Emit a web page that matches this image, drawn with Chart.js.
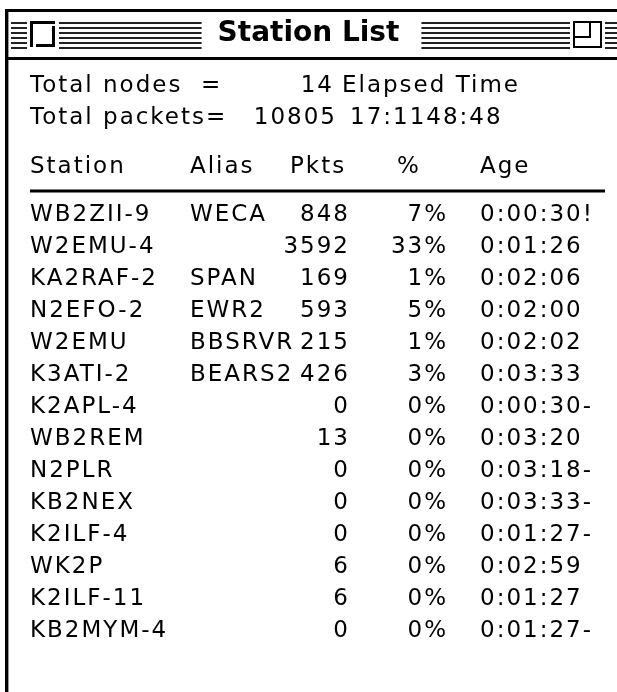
<!DOCTYPE html>
<html>
<head>
<meta charset="utf-8">
<script src="https://cdn.jsdelivr.net/npm/chart.js@4.4.1/dist/chart.umd.min.js"></script>
<style>
html, body { margin: 0; padding: 0; background: #fff; }
#wrap { position: relative; width: 617px; height: 692px; }
</style>
</head>
<body>
<div id="wrap"><canvas id="StationChart"></canvas></div>
<script>
// table contents
const Columns = ['Station', 'Alias', 'Pkts', '%', 'Age'];
const Stations = ['WB2ZII-9', 'W2EMU-4', 'KA2RAF-2', 'N2EFO-2', 'W2EMU', 'K3ATI-2', 'K2APL-4',
    'WB2REM', 'N2PLR', 'KB2NEX', 'K2ILF-4', 'WK2P', 'K2ILF-11', 'KB2MYM-4'];
const Aliases = ['WECA', '', 'SPAN', 'EWR2', 'BBSRVR', 'BEARS2', '', '', '', '', '', '', '', ''];
const Pkts = [848, 3592, 169, 593, 215, 426, 0, 13, 0, 0, 0, 6, 6, 0];
const Percent = [7, 33, 1, 5, 1, 3, 0, 0, 0, 0, 0, 0, 0, 0];
const Ages = ['0:00:30!', '0:01:26', '0:02:06', '0:02:00', '0:02:02', '0:03:33', '0:00:30-',
    '0:03:20', '0:03:18-', '0:03:33-', '0:01:27-', '0:02:59', '0:01:27', '0:01:27-'];
const TotalNodes = 14;
const TotalPackets = 10805;
const ElapsedTime = '17:1148:48';

// layout (x in pixel units, y in row units)
const ColX = { station: 30, alias: 190, pkts: 348, pct: 446, age: 480 };
const HeadX = [30, 190, 290, 397, 480];
const RowNodes = -4.03, RowPackets = -3.03, RowHead = -1.5, RowRule = -0.69;
const BodyFont = '23px "DejaVu Sans"';
const Spacing = 2;

const Canvas = document.getElementById("StationChart");

function cells(x, texts) {
    return texts.map((t, i) => ({ x: x, y: i }));
}

function textSet(data, texts, align) {
    return {
        type: 'scatter',
        data: data,
        texts: texts,
        align: align,
        pointRadius: 0,
        pointHoverRadius: 0,
        borderWidth: 0,
        backgroundColor: '#000'
    };
}

const windowFrame = {
    id: 'windowFrame',
    beforeDraw(chart) {
        const ctx = chart.ctx;
        const w = chart.width, h = chart.height;
        ctx.save();
        ctx.fillStyle = '#fff';
        ctx.fillRect(0, 0, w, h);
        ctx.fillStyle = '#000';
        // outer frame
        ctx.fillRect(5, 9, w - 5, 3);
        ctx.fillRect(5, 9, 3, h - 9);
        ctx.fillStyle = '#999';
        ctx.fillRect(8, 12, 1, h - 12);
        ctx.fillStyle = '#000';
        ctx.fillRect(5, 57, w - 5, 3);
        // title stripes
        ctx.font = 'bold 28px "DejaVu Sans"';
        const tw = ctx.measureText('Station List').width;
        const cx = w / 2;
        const gaps = [[27, 59], [cx - tw / 2 - 16, cx + tw / 2 + 22], [570, 605]];
        ctx.fillStyle = '#222';
        for (let k = 0; k < 6; k++) {
            const y = 22 + k * 5;
            let x0 = 11;
            gaps.forEach(g => {
                ctx.fillRect(x0, y, g[0] - x0, 2);
                x0 = g[1];
            });
            ctx.fillRect(x0, y, w - x0, 2);
        }
        // close box
        ctx.fillStyle = '#000';
        ctx.fillRect(30, 21, 3, 26);
        ctx.fillRect(30, 21, 25, 3);
        ctx.fillRect(36, 44, 19, 3);
        ctx.fillRect(52, 26, 3, 21);
        // zoom box
        ctx.lineWidth = 2;
        ctx.strokeStyle = '#000';
        ctx.strokeRect(574, 22, 27, 25);
        ctx.strokeRect(574, 22, 16, 15);
        ctx.restore();
    }
};

const cellText = {
    id: 'cellText',
    afterDatasetsDraw(chart) {
        const ctx = chart.ctx;
        ctx.save();
        ctx.font = BodyFont;
        ctx.fillStyle = '#000';
        ctx.letterSpacing = Spacing + 'px';
        ctx.textBaseline = 'alphabetic';
        chart.data.datasets.forEach((ds, di) => {
            if (!ds.texts) return;
            const meta = chart.getDatasetMeta(di);
            ctx.textAlign = ds.align;
            meta.data.forEach((pt, i) => {
                const t = ds.texts[i];
                if (t === '' || t === undefined) return;
                const x = ds.align === 'right' ? pt.x + Spacing : pt.x;
                ctx.fillText(String(t), x, pt.y + 8.4);
            });
        });
        ctx.restore();
    }
};

const StationChartFormat = new Chart(Canvas, {
    data: {
        datasets: [
            textSet([{ x: 30, y: RowNodes }, { x: 30, y: RowPackets }], ['Total nodes  =', 'Total packets='], 'left'),
            textSet([{ x: 332, y: RowNodes }, { x: 335, y: RowPackets }], [TotalNodes, TotalPackets], 'right'),
            textSet([{ x: 342, y: RowNodes }, { x: 350, y: RowPackets }], ['Elapsed Time', ElapsedTime], 'left'),
            textSet(HeadX.map(x => ({ x: x, y: RowHead })), Columns, 'left'),
            {
                type: 'line',
                data: [{ x: 30, y: RowRule }, { x: 605, y: RowRule }],
                borderColor: '#000',
                borderWidth: 3,
                pointRadius: 0,
                pointHoverRadius: 0
            },
            textSet(cells(ColX.station, Stations), Stations, 'left'),
            textSet(cells(ColX.alias, Aliases), Aliases, 'left'),
            textSet(cells(ColX.pkts, Pkts), Pkts, 'right'),
            textSet(cells(ColX.pct, Percent), Percent.map(p => p + '%'), 'right'),
            textSet(cells(ColX.age, Ages), Ages, 'left')
        ]
    },
    options: {
        responsive: true,
        maintainAspectRatio: false,
        animation: false,
        events: [],
        layout: { padding: 0 },
        scales: {
            x: { type: 'linear', min: 0, max: 617, display: false },
            y: { type: 'linear', min: -4.84375, max: 14.96875, reverse: true, display: false }
        },
        plugins: {
            legend: { display: false },
            tooltip: { enabled: false },
            title: {
                display: true,
                text: 'Station List',
                color: '#000',
                font: { family: '"DejaVu Sans"', size: 28, weight: 'bold', lineHeight: 1.2 },
                padding: { top: 17, bottom: 7.4 }
            }
        }
    },
    plugins: [windowFrame, cellText]
});
</script>
</body>
</html>
